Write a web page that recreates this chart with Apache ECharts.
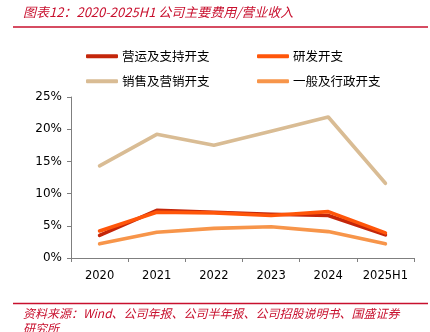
<!DOCTYPE html>
<html><head><meta charset="utf-8">
<script src="https://cdn.jsdelivr.net/npm/echarts@6/dist/echarts.min.js"></script>
<style>html,body{margin:0;padding:0;background:#fff}#c{width:430px;height:332px}</style>
</head><body><div id="c"></div>
<script>
const categories = ['2020','2021','2022','2023','2024','2025H1'];
const yTicks = [0,5,10,15,20,25];
const opsSupport = [3.5, 7.4, 7.1, 6.8, 6.6, 3.6];
const rnd = [4.2, 7.1, 7.0, 6.6, 7.2, 3.9];
const sales = [14.3, 19.2, 17.5, 19.7, 21.9, 11.6];
const admin = [2.2, 4.0, 4.6, 4.85, 4.1, 2.2];
const names = ['营运及支持开支','研发开支','销售及营销开支','一般及行政开支'];
const colors = ['#C4260A','#FF560A','#D9BC94','#F7954A'];
const seriesData = [opsSupport, rnd, sales, admin];

const chart = echarts.init(document.getElementById('c'), null, {renderer:'canvas'});
const cjk = '"Noto Sans CJK SC", sans-serif';
const legendPos = [[86,50],[257,50],[86,75],[257,75]];
const drawOrder = [2,3,0,1];
chart.setOption({
  animation:false,
  backgroundColor:'#fff',
  legend: names.map((n,i)=>({
    data:[n], left:legendPos[i][0], top:legendPos[i][1],
    icon:'roundRect', itemWidth:32, itemHeight:4, itemGap:0,
    textStyle:{fontFamily:cjk, fontSize:12.5, color:'#000', padding:[0,0,0,-1]},
    padding:0
  })),
  grid:{left:71, right:16, top:97, bottom:74, containLabel:false},
  xAxis:{type:'category', data:categories, boundaryGap:true,
    axisLine:{lineStyle:{color:'#7f7f7f', width:1}},
    axisTick:{show:true, length:4, lineStyle:{color:'#7f7f7f'}},
    axisLabel:{color:'#000', fontFamily:'"DejaVu Sans", sans-serif', fontSize:11.5, margin:12, interval:0, hideOverlap:false},
    splitLine:{show:false}},
  yAxis:{type:'value', min:yTicks[0], max:yTicks[yTicks.length-1], interval:5,
    axisLine:{show:true, lineStyle:{color:'#7f7f7f', width:1}},
    axisTick:{show:true, length:4, inside:false, lineStyle:{color:'#7f7f7f'}},
    axisLabel:{color:'#000', fontFamily:'"DejaVu Sans", sans-serif', fontSize:12, margin:9, formatter: v=>v+'%'},
    splitLine:{show:false}},
  series: drawOrder.map(i=>({
    name:names[i], type:'line', data:seriesData[i], symbol:'none',
    lineStyle:{color:colors[i], width:3.6, cap:'round', join:'round'},
    itemStyle:{color:colors[i]}, z:2
  })),
  graphic:[
    {type:'text', left:23, top:6, style:{text:'图表12：2020-2025H1 公司主要费用/营业收入', fill:'#C8102E', font:'italic 13px '+cjk}},
    {type:'line', shape:{x1:13,y1:27,x2:428,y2:27}, style:{stroke:'#C8102E', lineWidth:1.5}},
    {type:'line', shape:{x1:13,y1:303.5,x2:428,y2:303.5}, style:{stroke:'#C8102E', lineWidth:1.5}},
    {type:'text', left:23, top:306, style:{text:'资料来源：Wind、公司年报、公司半年报、公司招股说明书、国盛证券\n研究所', fill:'#C8102E', font:'italic 12px '+cjk, lineHeight:15}}
  ]
});
</script></body></html>
